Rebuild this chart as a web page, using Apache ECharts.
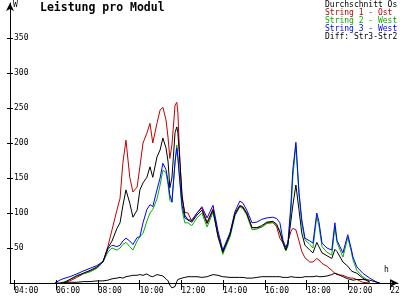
<!DOCTYPE html>
<html><head><meta charset="utf-8">
<script src="https://cdn.jsdelivr.net/npm/echarts@6/dist/echarts.min.js"></script>
<style>html,body{margin:0;padding:0;background:#fff}#c{width:400px;height:300px}</style>
</head><body><div id="c"></div>
<script>
const times = ['05:57','06:11','06:20','06:40','07:00','07:18','07:38','07:58','08:15','08:29','08:41','08:55','09:04','09:12','09:21','09:32','09:41','09:53','10:01','10:10','10:21','10:30','10:38','10:50','10:59','11:07','11:16','11:22','11:27','11:33','11:42','11:47','11:50','11:56','12:02','12:10','12:19','12:30','12:45','12:59','13:14','13:31','13:45','13:59','14:20','14:34','14:48','14:57','15:08','15:23','15:37','15:51','16:06','16:23','16:34','16:43','16:52','17:00','17:06','17:15','17:20','17:29','17:38','17:46','17:55','18:09','18:18','18:29','18:35','18:44','18:58','19:12','19:21','19:27','19:44','19:58','20:07','20:13','20:24','20:41','21:01','21:22','21:30'];
const string1Ost = [null,null,0,3,8,13,17,22,30,52,76,104,121,171,204,151,130,137,166,200,214,228,200,228,247,251,233,207,178,197,254,258,244,173,121,101,100,88,100,107,87,106,66,44,71,100,111,109,100,79,79,80,86,87,80,64,57,47,59,74,78,76,60,45,36,30,30,35,33,28,24,18,14,12,11,8,7,7,5,1,0,null,null];
const string2West = [null,null,0,5,11,13,16,21,30,44,50,47,50,55,58,52,47,60,66,71,88,100,105,120,140,161,158,140,118,115,173,197,180,144,105,86,86,82,93,100,80,101,70,41,66,96,109,106,97,76,77,80,85,86,82,75,57,46,52,105,150,197,125,85,62,55,50,95,82,52,44,40,80,58,37,65,47,33,18,9,2,null,null];
const string3West = [0,4,6,9,13,17,21,25,31,48,54,52,54,60,64,60,55,65,66,86,105,112,109,133,150,171,162,145,126,116,173,193,180,144,111,93,90,90,100,109,93,111,75,47,72,102,117,114,104,86,87,91,93,94,92,86,61,51,57,114,161,201,129,90,64,60,57,100,88,57,50,47,86,61,43,69,51,37,23,14,7,1,0];
const durchschnitt = [null,null,0,5,10,14,18,23,30,50,60,78,86,110,133,114,94,104,133,143,151,166,151,180,190,207,193,173,136,150,215,223,215,173,126,97,90,87,97,104,85,104,68,44,69,98,110,108,99,79,79,82,87,88,84,72,58,47,55,90,110,140,104,71,54,47,43,58,52,43,39,35,48,45,30,24,18,16,14,7,1,null,null];
const diffStr3Str2 = [0,0,1,1,1,2,2,3,3,4,6,7,8,7,9,10,11,11,12,11,13,10,9,12,11,10,6,3,-3,-7,-5,2,5,6,7,8,9,9,9,8,9,12,11,9,8,8,8,8,7,7,8,9,9,9,9,9,8,8,8,9,9,8,8,8,9,9,9,10,9,9,10,12,14,13,9,6,5,4,5,5,4,1,0];
const xTicks = [4,6,8,10,12,14,16,18,20,22];
const yTicks = [50,100,150,200,250,300,350];
const legendNames = ['Durchschnitt Os','String 1 - Ost','String 2 - West','String 3 - West','Diff: Str3-Str2'];
const colors = ['#000000','#c00000','#00b000','#0000ff','#000000'];

const toH = s => { const [h,m] = s.split(':').map(Number); return h + m/60; };
const mk = arr => times.map((t,i)=>[toH(t), arr[i]]).filter(p=>p[1]!==null);
const pad = n => (n<10?'0':'')+n;
const font = 'DejaVu Sans Mono';

const chart = echarts.init(document.getElementById('c'), null, {renderer:'canvas'});
const seriesData = [durchschnitt,string1Ost,string2West,string3West,diffStr3Str2];
const order = [1,2,3,0,4];
chart.setOption({
  animation:false,
  backgroundColor:'#fff',
  title:{text:'Leistung pro Modul', left:40, top:2, padding:0, textStyle:{fontFamily:font, fontSize:11.5, fontWeight:'bold', color:'#000'}},
  legend:{orient:'vertical', left:320, top:1, padding:0, itemWidth:0, itemHeight:0, itemGap:0, icon:'rect', selectedMode:false,
    data: legendNames.map((n,i)=>({name:n, textStyle:{color:colors[i]}})),
    textStyle:{fontFamily:font, fontSize:8, lineHeight:7.6}},
  grid:{left:10, right:2, top:3, bottom:17, outerBoundsMode:'none', containLabel:false},
  xAxis:[{type:'value', min:3.8, max:22.37, position:'bottom',
    axisLine:{show:true, lineStyle:{color:'#000', width:1}, symbol:['none','arrow'], symbolSize:[6,8]},
    axisTick:{show:true, length:7, lineStyle:{color:'#000'}, customValues:xTicks},
    axisLabel:{show:true, customValues:xTicks, align:'left', margin:4, fontFamily:font, fontSize:8, color:'#000', formatter:v=>pad(Math.round(v))+':00'},
    splitLine:{show:false}},
   {type:'value', min:3.8, max:22.37, position:'bottom',
    axisLine:{show:false}, axisTick:{show:true, inside:true, length:3, lineStyle:{color:'#000'}, customValues:xTicks},
    axisLabel:{show:false}, splitLine:{show:false}}],
  yAxis:[{type:'value', min:0, max:400, position:'left',
    axisLine:{show:true, lineStyle:{color:'#000', width:1}, symbol:['none','arrow'], symbolSize:[6,8]},
    axisTick:{show:true, length:3, lineStyle:{color:'#000'}, customValues:yTicks},
    axisLabel:{show:true, inside:true, margin:4, customValues:yTicks, fontFamily:font, fontSize:8, color:'#000'},
    splitLine:{show:false}},
   {type:'value', min:0, max:400, position:'left',
    axisLine:{show:false}, axisTick:{show:true, inside:true, length:3, lineStyle:{color:'#000'}, customValues:yTicks},
    axisLabel:{show:false}, splitLine:{show:false}}],
  graphic:[
    {type:'text', left:13, top:1, style:{text:'W', font:'8px "DejaVu Sans Mono"', fill:'#000'}},
    {type:'text', left:384, top:266, style:{text:'h', font:'8px "DejaVu Sans Mono"', fill:'#000'}}
  ],
  series: order.map(i=>({name:legendNames[i], type:'line', showSymbol:false, symbol:'none', silent:true, clip:false,
    xAxisIndex:0, yAxisIndex:0,
    data: mk(seriesData[i]), lineStyle:{width:1, color:colors[i]}, itemStyle:{color:colors[i]}}))
});
</script></body></html>
